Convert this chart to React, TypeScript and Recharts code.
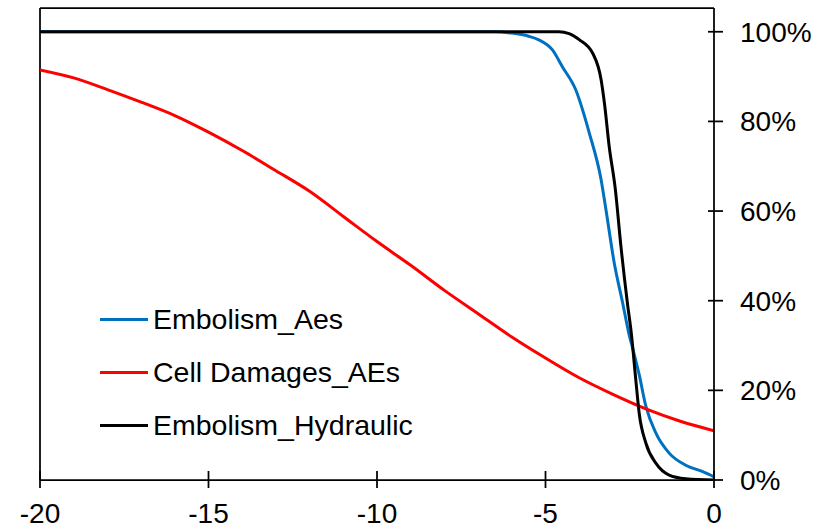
import React from "react";
import { LineChart, Line, XAxis, YAxis, ReferenceLine, Legend } from "recharts";

// Embolism_Aes (blue)
const blueX = [-20, -6.5, -6.0, -5.5, -5.2, -4.8, -4.5, -4.1, -3.7, -3.35, -3.2, -2.96, -2.71, -2.52, -2.4, -2.22, -2.02, -1.72, -1.33, -0.84, -0.35, 0];
const blueY = [1, 1, 0.997, 0.99, 0.982, 0.96, 0.922, 0.87, 0.774, 0.67, 0.6, 0.484, 0.395, 0.325, 0.29, 0.235, 0.164, 0.104, 0.06, 0.033, 0.019, 0.007];

// Cell Damages_AEs (red)
const redX = [-20, -19, -18, -17, -16, -15, -14, -13, -12, -11, -10, -9, -8, -7, -6, -5, -4, -3, -2, -1, 0];
const redY = [0.915, 0.897, 0.871, 0.843, 0.813, 0.776, 0.735, 0.69, 0.644, 0.588, 0.532, 0.479, 0.423, 0.371, 0.319, 0.272, 0.228, 0.191, 0.158, 0.131, 0.11];

// Embolism_Hydraulic (black)
const blackX = [-20, -4.6, -4.3, -3.99, -3.6, -3.35, -3.25, -3.11, -2.93, -2.76, -2.57, -2.45, -2.32, -2.22, -2.02, -1.72, -1.33, -0.84, 0];
const blackY = [1, 1, 0.996, 0.982, 0.952, 0.893, 0.84, 0.744, 0.65, 0.52, 0.395, 0.325, 0.223, 0.149, 0.082, 0.037, 0.011, 0.003, 0];

const xTicks = [-20, -15, -10, -5, 0];
const yTicks = [0, 0.2, 0.4, 0.6, 0.8, 1];
const Y_MAX = 1.053;

const series = [
  { name: "Embolism_Aes", color: "#0070C0", data: blueX.map((x, i) => ({ x, y: blueY[i] })) },
  { name: "Cell Damages_AEs", color: "#FF0000", data: redX.map((x, i) => ({ x, y: redY[i] })) },
  { name: "Embolism_Hydraulic", color: "#000000", data: blackX.map((x, i) => ({ x, y: blackY[i] })) },
];

const FONT = "'Liberation Sans', Arial, sans-serif";

const XTick = ({ x, y, payload }: any) => (
  <g>
    <line x1={x} x2={x} y1={y - 9} y2={y + 8} stroke="#000" strokeWidth={1.75} />
    <text x={x} y={y + 43} textAnchor="middle" fontSize={28} fontFamily={FONT} fill="#000">
      {payload.value}
    </text>
  </g>
);

const YTick = ({ x, y, payload }: any) => (
  <g>
    <line x1={x - 6} x2={x + 9} y1={y} y2={y} stroke="#000" strokeWidth={1.75} />
    <text x={x + 26} y={y + 10} textAnchor="start" fontSize={28} fontFamily={FONT} fill="#000">
      {`${Math.round(payload.value * 100)}%`}
    </text>
  </g>
);

const renderLegend = () => (
  <div style={{ fontFamily: FONT, fontSize: 28.5, color: "#000" }}>
    {series.map((s) => (
      <div key={s.name} style={{ display: "flex", alignItems: "center", height: 53 }}>
        <div style={{ width: 48, height: 3, background: s.color, marginRight: 5 }} />
        <span style={{ whiteSpace: "nowrap" }}>{s.name}</span>
      </div>
    ))}
  </div>
);

export default function App() {
  return (
    <div style={{ position: "absolute", left: 0, top: 0, background: "#fff" }}>
      <LineChart width={830} height={528} margin={{ top: 8, right: 0, bottom: 0, left: 40 }}>
        <XAxis
          dataKey="x"
          type="number"
          domain={[-20, 0]}
          ticks={xTicks}
          height={48}
          tickSize={0}
          tickMargin={0}
          tickLine={false}
          axisLine={{ stroke: "#000", strokeWidth: 1.75 }}
          tick={(p: any) => <XTick {...p} />}
          allowDataOverflow
        />
        <YAxis
          orientation="right"
          type="number"
          domain={[0, Y_MAX]}
          ticks={yTicks}
          width={116}
          tickSize={0}
          tickMargin={0}
          tickLine={false}
          axisLine={{ stroke: "#000", strokeWidth: 1.75 }}
          tick={(p: any) => <YTick {...p} />}
          allowDataOverflow
        />
        <ReferenceLine y={Y_MAX} stroke="#000" strokeWidth={1.75} />
        <ReferenceLine x={-20} stroke="#000" strokeWidth={1.75} />
        <Legend
          layout="vertical"
          align="center"
          verticalAlign="middle"
          content={renderLegend}
          wrapperStyle={{ left: 100, top: 293, width: 420, height: 160 }}
        />
        {series.map((s) => (
          <Line
            key={s.name}
            data={s.data}
            dataKey="y"
            name={s.name}
            type="monotone"
            stroke={s.color}
            strokeWidth={3}
            dot={false}
            activeDot={false}
            isAnimationActive={false}
          />
        ))}
      </LineChart>
    </div>
  );
}
